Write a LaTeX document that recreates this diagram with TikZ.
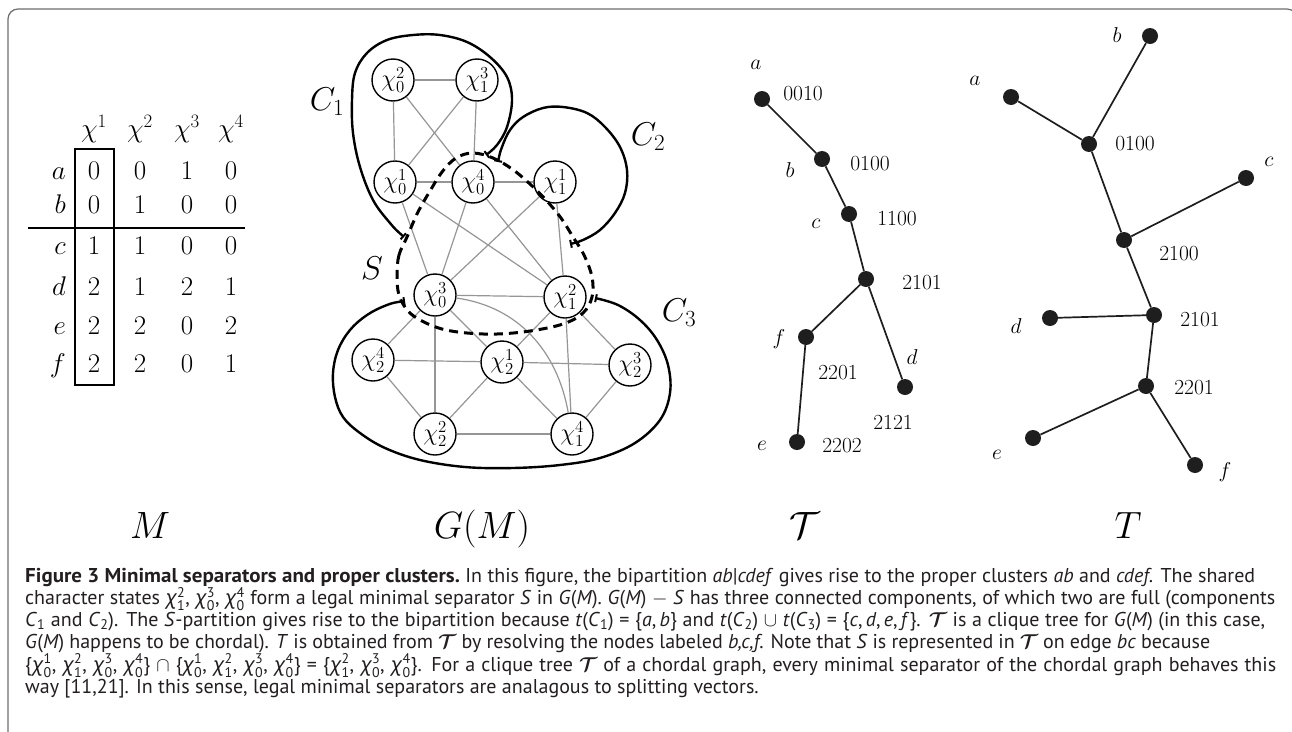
\documentclass[tikz,border=0pt]{standalone}
\usepackage{fix-cm}
\usepackage{amsmath,amssymb}
\usepackage{fontspec}
\usetikzlibrary{arrows.meta}
\newfontfamily\capfont{PT Sans}
\newfontfamily\grk{Noto Sans}
\definecolor{edgegray}{RGB}{150,150,150}
\definecolor{framegray}{RGB}{110,110,110}
\definecolor{dotblack}{RGB}{30,30,30}
\definecolor{captext}{RGB}{35,31,32}
\newcommand{\gx}[2]{\smash{$\text{\grk\itshape χ}^{\text{#1}}_{\text{#2}}$}}
\newcommand{\calT}{\smash{$\boldsymbol{\mathcal{T}}$}}
\newcommand{\gc}[2]{$\chi^{#1}_{#2}$}
\begin{document}
\begin{tikzpicture}[x=1pt,y=-1pt]
\tikzset{
 gnode/.style={circle, draw, line width=1.4pt, minimum size=42pt, inner sep=0pt, fill=white, font=\fontsize{24}{26}\selectfont},
 gedge/.style={draw=edgegray, line width=1.2pt},
 comp/.style={line width=2.4pt, line cap=round, {Bar[width=8pt,line width=2pt]}-{Bar[width=8pt,line width=2pt]}},
 sep/.style={line width=3pt, dash pattern=on 9pt off 6pt},
 tdot/.style={circle, fill=dotblack, minimum size=16pt, inner sep=0pt},
 tedge/.style={line width=1.7pt, draw=dotblack},
 tlab/.style={font=\fontsize{21.5}{24}\selectfont, inner sep=0pt},
 tab/.style={font=\fontsize{27}{30}\selectfont, inner sep=0pt, anchor=base},
 rowlab/.style={font=\fontsize{27}{30}\selectfont, inner sep=0pt, anchor=base east},
 clab/.style={font=\fontsize{33}{36}\selectfont, inner sep=0pt},
 big/.style={font=\fontsize{38}{42}\selectfont, inner sep=0pt, anchor=base},
 captxt/.style={font=\capfont\fontsize{20}{22}\selectfont, inner sep=0pt, anchor=base west, text=captext, text height=14pt, text depth=4pt},
}
\useasboundingbox (0,0) rectangle (1292,731);
\fill[white] (0,0) rectangle (1292,731);
% frame
\draw[framegray, line width=1.2pt, rounded corners=10pt] (8,740) -- (8,9) -- (1297,9) -- (1297,740);

% ---------------- table M ----------------
\node[tab] (h1) at (94,137) {$\chi^1$};
\node[tab] (h2) at (140,137) {$\chi^2$};
\node[tab] (h3) at (187,137) {$\chi^3$};
\node[tab] (h4) at (231,137) {$\chi^4$};
\foreach \r/\yy/\va/\vb/\vc/\vd in {a/179/0/0/1/0, b/213/0/1/0/0, c/254/1/1/0/0, d/295/2/1/2/1, e/334/2/2/0/2, f/372/2/2/0/1}{
  \node[rowlab] (r\r) at (66,\yy) {$\r$};
  \node[tab] (v\r1) at (94,\yy) {$\va$};
  \node[tab] (v\r2) at (140,\yy) {$\vb$};
  \node[tab] (v\r3) at (187,\yy) {$\vc$};
  \node[tab] (v\r4) at (231,\yy) {$\vd$};
}
\draw[line width=1.5pt] (75,149) rectangle (114,385);
\draw[line width=1.5pt] (28,228) -- (245,228);

% ---------------- graph G(M) ----------------
\node[gnode] (x20) at (393,80) {\gc{2}{0}};
\node[gnode] (x31) at (477,80) {\gc{3}{1}};
\node[gnode] (x10) at (395,182) {\gc{1}{0}};
\node[gnode] (x40) at (473,182) {\gc{4}{0}};
\node[gnode] (x11) at (555,182) {\gc{1}{1}};
\node[gnode] (x30) at (435,295) {\gc{3}{0}};
\node[gnode] (x21) at (565,297) {\gc{2}{1}};
\node[gnode] (x42) at (373,360) {\gc{4}{2}};
\node[gnode] (x12) at (502,362) {\gc{1}{2}};
\node[gnode] (x32) at (630,365) {\gc{3}{2}};
\node[gnode] (x22) at (435,434) {\gc{2}{2}};
\node[gnode] (x41) at (572,434) {\gc{4}{1}};
\foreach \a/\b in {x20/x31,x20/x10,x20/x40,x31/x10,x31/x40,x10/x40,x40/x11,x10/x30,x10/x21,x40/x30,x40/x21,x11/x30,x11/x21,x30/x21,x30/x42,x30/x12,x30/x22,x21/x12,x21/x32,x21/x41,x42/x12,x42/x22,x12/x32,x12/x22,x12/x41,x32/x41,x22/x41}
  \draw[gedge] (\a) -- (\b);
\draw[gedge] (x30) to[out=-8,in=100] (x41);

% components
\draw[comp] plot[smooth, tension=0.6] coordinates {(404,237) (390,223) (373,200) (360,167) (353,133) (352,100) (355,73) (367,53) (387,40) (413,35) (440,35) (467,42) (490,57) (507,77) (512,100) (507,127) (497,145) (486,155)};
\draw[comp] plot[smooth, tension=0.6] coordinates {(498,162) (502,147) (510,130) (523,117) (543,108) (563,107) (587,113) (605,127) (620,147) (627,170) (625,193) (615,213) (600,230) (583,240) (570,244)};
\draw[comp] plot[smooth, tension=0.6] coordinates {(405,301) (387,305) (367,315) (350,330) (338,350) (333,373) (335,397) (343,417) (360,433) (385,448) (420,460) (465,467) (513,468) (560,465) (600,458) (635,443) (660,420) (670,393) (668,365) (657,340) (640,320) (618,305) (595,298)};
\draw[sep] plot[smooth cycle, tension=0.6] coordinates {(407,237) (399,255) (397,275) (399,295) (408,311) (422,321) (442,329) (467,333) (497,334) (530,331) (563,324) (583,313) (592,297) (592,277) (584,255) (573,237) (561,218) (546,200) (530,184) (512,169) (493,158) (473,153) (456,158) (442,172) (430,191) (418,212)};

\node[clab] (C1) at (327,102) {$C_1$};
\node[clab] (C2) at (648,137) {$C_2$};
\node[clab] (C3) at (679,313) {$C_3$};
\node[clab] (S) at (372,268) {$S$};

% ---------------- clique tree (calligraphic T) ----------------
\node[tdot] (ta) at (762,99) {};
\node[tdot] (tb) at (822,159) {};
\node[tdot] (tc) at (849,214) {};
\node[tdot] (tm) at (866,279) {};
\node[tdot] (tf) at (806,337) {};
\node[tdot] (td) at (905,387) {};
\node[tdot] (te) at (797,442) {};
\draw[tedge] (ta) -- (tb) -- (tc) -- (tm) -- (tf) -- (te);
\draw[tedge] (tm) -- (td);
\node[tlab] (lta) at (756,65) {$a$};
\node[tlab] (ltac) at (803,94) {0010};
\node[tlab] (ltb) at (790,170) {$b$};
\node[tlab] (ltbc) at (870,164) {0100};
\node[tlab] (ltc) at (816,224) {$c$};
\node[tlab] (ltcc) at (897,219) {1100};
\node[tlab] (ltmc) at (922,283) {2101};
\node[tlab] (ltf) at (779,339) {$f$};
\node[tlab] (ltfc) at (838,373) {2201};
\node[tlab] (ltd) at (912,357) {$d$};
\node[tlab] (ltdc) at (893,422) {2121};
\node[tlab] (lte) at (762,446) {$e$};
\node[tlab] (ltec) at (842,446) {2202};

% ---------------- tree T ----------------
\node[tdot] (ub) at (1150,36) {};
\node[tdot] (ua) at (1011,97) {};
\node[tdot] (u1) at (1089,144) {};
\node[tdot] (uc) at (1246,178) {};
\node[tdot] (u2) at (1124,240) {};
\node[tdot] (ud) at (1050,318) {};
\node[tdot] (u3) at (1154,315) {};
\node[tdot] (u4) at (1146,386) {};
\node[tdot] (ue) at (1033,438) {};
\node[tdot] (uf) at (1195,465) {};
\draw[tedge] (ua) -- (u1) -- (ub);
\draw[tedge] (u1) -- (u2) -- (uc);
\draw[tedge] (u2) -- (u3) -- (ud);
\draw[tedge] (u3) -- (u4) -- (ue);
\draw[tedge] (u4) -- (uf);
\node[tlab] (lub) at (1117,35) {$b$};
\node[tlab] (lua) at (975,81) {$a$};
\node[tlab] (lu1) at (1135,144) {0100};
\node[tlab] (luc) at (1269,162) {$c$};
\node[tlab] (lu2) at (1179,254) {2100};
\node[tlab] (lud) at (1016,326) {$d$};
\node[tlab] (lu3) at (1200,320) {2101};
\node[tlab] (lu4) at (1194,388) {2201};
\node[tlab] (lue) at (997,455) {$e$};
\node[tlab] (luf) at (1225,472) {$f$};

% ---------------- bottom labels ----------------
\node[big] (LM) at (150,538) {$M$};
\node[big] (LG) at (482,538) {$G(M)$};
\node[big] (LT1) at (805,538) {$\mathcal{T}$};
\node[big] (LT2) at (1128,538) {$T$};

% ---------------- caption ----------------
\node[captxt] (cap1) at (25,582) {\makebox[1230pt][s]{\scalebox{1.05}[1]{\textbf{Figure 3 Minimal separators and proper clusters.}} In this figure, the bipartition \textit{ab}|\textit{cdef} gives rise to the proper clusters \textit{ab} and \textit{cdef}. The shared}};
\node[captxt] (cap2) at (25,604.3) {\makebox[1250pt][s]{character states \gx{2}{1}, \gx{3}{0}, \gx{4}{0} form a legal minimal separator \textit{S} in \textit{G}(\textit{M}). \textit{G}(\textit{M}) $-$ \textit{S} has three connected components, of which two are full (components}};
\node[captxt] (cap3) at (25,626.6) {\makebox[1240pt][s]{\textit{C}\textsubscript{1} and \textit{C}\textsubscript{2}). The \textit{S}-partition gives rise to the bipartition because \textit{t}(\textit{C}\textsubscript{1}) = \{\textit{a},\,\textit{b}\} and \textit{t}(\textit{C}\textsubscript{2}) $\cup$ \textit{t}(\textit{C}\textsubscript{3}) = \{\textit{c},\,\textit{d},\,\textit{e},\,\textit{f}\}. \calT\ is a clique tree for \textit{G}(\textit{M}) (in this case,}};
\node[captxt] (cap4) at (25,648.9) {\makebox[1185pt][s]{\textit{G}(\textit{M}) happens to be chordal). \textit{T} is obtained from \calT\ by resolving the nodes labeled \textit{b,c,f}. Note that \textit{S} is represented in \calT\ on edge \textit{bc} because}};
\node[captxt] (cap5) at (25,671.2) {\makebox[1251pt][s]{\{\gx{1}{0}, \gx{2}{1}, \gx{3}{0}, \gx{4}{0}\} $\cap$ \{\gx{1}{0}, \gx{2}{1}, \gx{3}{0}, \gx{4}{0}\} = \{\gx{2}{1}, \gx{3}{0}, \gx{4}{0}\}. For a clique tree \calT\ of a chordal graph, every minimal separator of the chordal graph behaves this}};
\node[captxt] (cap6) at (25,693.5) {way [11,21]. In this sense, legal minimal separators are analagous to splitting vectors.};
\end{tikzpicture}
\end{document}
